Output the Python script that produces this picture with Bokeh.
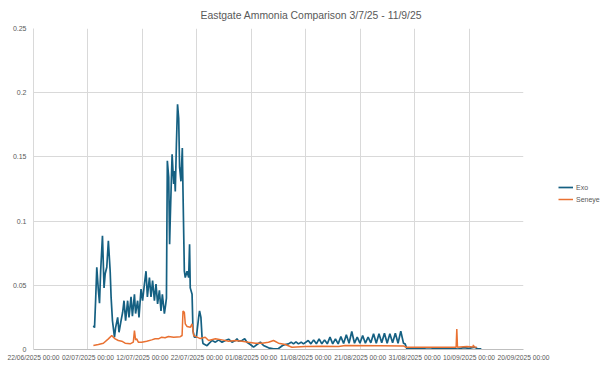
import pandas as pd
from bokeh.plotting import figure
from bokeh.layouts import row
from bokeh.models import (Range1d, FixedTicker, NumeralTickFormatter, DatetimeTickFormatter,
                          Legend, LegendItem, ColumnDataSource)
from bokeh.embed import file_html
from bokeh.resources import INLINE

TITLE = "Eastgate Ammonia Comparison 3/7/25 - 11/9/25"
SERIES = ["Exo", "Seneye"]

x_ticks = ["2025-06-22", "2025-07-02", "2025-07-12", "2025-07-22", "2025-08-01",
           "2025-08-11", "2025-08-21", "2025-08-31", "2025-09-10", "2025-09-20"]
y_ticks = [0, 0.05, 0.1, 0.15, 0.2, 0.25]

exo_time = [
    "2025-07-03 00:00", "2025-07-03 05:00", "2025-07-03 10:00", "2025-07-03 15:00", "2025-07-03 22:00",
    "2025-07-04 03:00", "2025-07-04 08:00", "2025-07-04 16:00", "2025-07-04 23:00", "2025-07-05 04:00",
    "2025-07-05 11:00", "2025-07-05 18:00", "2025-07-06 02:00", "2025-07-06 06:00", "2025-07-06 12:00",
    "2025-07-06 21:00", "2025-07-07 02:00", "2025-07-07 11:00", "2025-07-07 17:00", "2025-07-08 02:00",
    "2025-07-08 09:00", "2025-07-08 15:00", "2025-07-08 22:00", "2025-07-09 07:00", "2025-07-09 13:00",
    "2025-07-09 22:00", "2025-07-10 04:00", "2025-07-10 13:00", "2025-07-10 18:00", "2025-07-11 03:00",
    "2025-07-11 09:00", "2025-07-11 18:00", "2025-07-12 01:00", "2025-07-12 09:00", "2025-07-12 16:00",
    "2025-07-12 22:00", "2025-07-13 07:00", "2025-07-13 14:00", "2025-07-13 21:00", "2025-07-14 05:00",
    "2025-07-14 12:00", "2025-07-14 19:00", "2025-07-15 03:00", "2025-07-15 10:00", "2025-07-15 16:00",
    "2025-07-16 01:00", "2025-07-16 07:00", "2025-07-16 10:00", "2025-07-16 14:00", "2025-07-16 20:00",
    "2025-07-17 00:00", "2025-07-17 03:00", "2025-07-17 11:00", "2025-07-17 18:00", "2025-07-17 21:00",
    "2025-07-18 01:00", "2025-07-18 06:00", "2025-07-18 11:00", "2025-07-18 16:00", "2025-07-18 20:00",
    "2025-07-19 02:00", "2025-07-19 08:00", "2025-07-19 11:00", "2025-07-19 17:00", "2025-07-19 21:00",
    "2025-07-20 05:00", "2025-07-20 12:00", "2025-07-20 16:00", "2025-07-20 19:00", "2025-07-21 03:00",
    "2025-07-21 07:00", "2025-07-21 13:00", "2025-07-21 22:00", "2025-07-22 08:00", "2025-07-22 12:00",
    "2025-07-22 18:00", "2025-07-22 23:00", "2025-07-23 03:00", "2025-07-23 21:00",
    "2025-07-24 04:00", "2025-07-24 19:00", "2025-07-25 10:00", "2025-07-26 00:00", "2025-07-26 15:00",
    "2025-07-27 06:00", "2025-07-27 20:00", "2025-07-28 11:00", "2025-07-29 02:00", "2025-07-29 09:00",
    "2025-07-29 16:00", "2025-07-30 07:00", "2025-07-30 19:00", "2025-07-31 05:00", "2025-07-31 20:00",
    "2025-08-01 10:00", "2025-08-02 01:00", "2025-08-02 16:00", "2025-08-03 06:00", "2025-08-04 04:00",
    "2025-08-05 02:00", "2025-08-06 00:00", "2025-08-06 18:00", "2025-08-07 06:00", "2025-08-07 20:00",
    "2025-08-08 08:00", "2025-08-08 18:00", "2025-08-09 05:00", "2025-08-09 16:00", "2025-08-10 04:00",
    "2025-08-10 14:00",
    "2025-08-11 11:00", "2025-08-11 23:00", "2025-08-12 11:00", "2025-08-12 23:00",
    "2025-08-13 11:00", "2025-08-13 23:00", "2025-08-14 11:00", "2025-08-14 23:00",
    "2025-08-15 11:00", "2025-08-15 23:00", "2025-08-16 11:00", "2025-08-16 23:00",
    "2025-08-17 11:00", "2025-08-17 23:00", "2025-08-18 11:00", "2025-08-18 23:00",
    "2025-08-19 11:00", "2025-08-19 23:00", "2025-08-20 11:00", "2025-08-20 23:00",
    "2025-08-21 11:00", "2025-08-21 23:00", "2025-08-22 11:00", "2025-08-22 23:00",
    "2025-08-23 11:00", "2025-08-23 23:00", "2025-08-24 11:00", "2025-08-24 23:00",
    "2025-08-25 11:00", "2025-08-25 23:00", "2025-08-26 11:00", "2025-08-26 23:00",
    "2025-08-27 11:00", "2025-08-27 23:00", "2025-08-28 11:00", "2025-08-28 23:00",
    "2025-08-29 06:00", "2025-08-29 14:00",
    "2025-08-30 00:00", "2025-08-31 00:00", "2025-09-01 00:00", "2025-09-02 00:00", "2025-09-03 00:00",
    "2025-09-04 00:00", "2025-09-05 00:00", "2025-09-06 00:00", "2025-09-07 00:00", "2025-09-08 00:00",
    "2025-09-09 00:00", "2025-09-10 00:00", "2025-09-11 00:00", "2025-09-11 12:00", "2025-09-12 06:00",
]
exo_value = [
    0.0186, 0.017, 0.039, 0.064, 0.046,
    0.036, 0.061, 0.0885, 0.048, 0.059,
    0.064, 0.0846, 0.061, 0.041, 0.0225,
    0.0096, 0.017, 0.025, 0.0134, 0.0225,
    0.029, 0.038, 0.0225, 0.038, 0.025,
    0.041, 0.026, 0.043, 0.028, 0.038,
    0.025, 0.047, 0.038, 0.051, 0.061,
    0.041, 0.056, 0.041, 0.0536, 0.038,
    0.051, 0.0355, 0.046, 0.030, 0.043,
    0.028, 0.0355, 0.040, 0.147, 0.134,
    0.082, 0.103, 0.152, 0.129, 0.139,
    0.123, 0.16, 0.191, 0.18, 0.142,
    0.131, 0.157, 0.123, 0.061, 0.056,
    0.061, 0.056, 0.082, 0.048, 0.043,
    0.0147, 0.0096, 0.0096, 0.025, 0.030,
    0.025, 0.0096, 0.0047, 0.0030,
    0.0044, 0.0070, 0.0057, 0.0075, 0.0057,
    0.0070, 0.0080, 0.0057, 0.0070, 0.0083,
    0.0065, 0.0070, 0.0083, 0.0057, 0.0039,
    0.0018, 0.0039, 0.0057, 0.0031, 0.0013,
    0.0005, 0.0008, 0.0031, 0.0039, 0.0044,
    0.0057, 0.0044, 0.0060, 0.0044, 0.0057,
    0.0044,
    0.0070, 0.0044, 0.0075, 0.0044,
    0.0083, 0.0044, 0.0075, 0.0044,
    0.0096, 0.0044, 0.0083, 0.0044,
    0.0100, 0.0047, 0.0115, 0.0049,
    0.0140, 0.0049, 0.0096, 0.0049,
    0.0109, 0.0049, 0.0096, 0.0052,
    0.0122, 0.0049, 0.0122, 0.0052,
    0.0127, 0.0049, 0.0122, 0.0052,
    0.0127, 0.0049, 0.0143, 0.0049,
    0.0044, 0.0005,
    0.0008, 0.0005, 0.0012, 0.0006, 0.0004,
    0.0010, 0.0005, 0.0012, 0.0007, 0.0004,
    0.0015, 0.0009, 0.0018, 0.0008, 0.0005,
]

seneye_time = [
    "2025-07-03 00:00", "2025-07-03 22:00", "2025-07-04 20:00", "2025-07-05 18:00", "2025-07-06 09:00",
    "2025-07-06 16:00", "2025-07-07 00:00", "2025-07-07 14:00", "2025-07-08 05:00", "2025-07-08 20:00",
    "2025-07-09 18:00", "2025-07-10 08:00", "2025-07-10 13:00", "2025-07-10 18:00", "2025-07-10 23:00",
    "2025-07-11 06:00", "2025-07-11 21:00", "2025-07-12 19:00", "2025-07-13 17:00", "2025-07-14 08:00",
    "2025-07-14 23:00", "2025-07-15 13:00", "2025-07-16 04:00", "2025-07-16 19:00", "2025-07-17 18:00",
    "2025-07-18 23:00", "2025-07-19 07:00", "2025-07-19 11:00", "2025-07-19 17:00", "2025-07-19 21:00",
    "2025-07-20 05:00", "2025-07-20 19:00", "2025-07-21 03:00", "2025-07-21 10:00", "2025-07-22 01:00",
    "2025-07-22 15:00", "2025-07-23 13:00", "2025-07-24 04:00", "2025-07-25 10:00", "2025-07-26 15:00",
    "2025-07-27 20:00", "2025-07-29 02:00", "2025-07-30 07:00", "2025-07-31 12:00", "2025-08-01 18:00",
    "2025-08-02 23:00", "2025-08-04 04:00", "2025-08-05 02:00", "2025-08-06 00:00", "2025-08-07 06:00",
    "2025-08-08 11:00", "2025-08-10 22:00", "2025-08-13 23:00", "2025-08-17 01:00", "2025-08-18 06:00",
    "2025-08-24 16:00", "2025-08-28 22:00", "2025-08-29 11:00", "2025-09-02 20:00", "2025-09-07 15:00",
    "2025-09-07 18:00", "2025-09-07 21:00", "2025-09-08 08:00", "2025-09-09 14:00", "2025-09-10 18:00",
    "2025-09-10 19:00", "2025-09-10 22:00", "2025-09-11 10:00",
]
seneye_value = [
    0.0031, 0.0039, 0.0049, 0.0083, 0.0109,
    0.0096, 0.0083, 0.0070, 0.0065, 0.0049,
    0.0044, 0.0057, 0.0148, 0.0075, 0.0083,
    0.0057, 0.0057, 0.0065, 0.0075, 0.0083,
    0.0083, 0.0096, 0.0091, 0.0101, 0.0096,
    0.0100, 0.0109, 0.030, 0.029, 0.020,
    0.0179, 0.0173, 0.020, 0.0109, 0.0096,
    0.0085, 0.0096, 0.0070, 0.0083, 0.0075,
    0.0065, 0.0070, 0.0065, 0.0057, 0.0049,
    0.0049, 0.0057, 0.0070, 0.0049, 0.0039,
    0.0018, 0.0023, 0.0026, 0.0023, 0.0031,
    0.0030, 0.0028, 0.0018, 0.0018, 0.0018,
    0.016, 0.0018, 0.0020, 0.0023, 0.0020,
    0.0036, 0.0020, 0.0018,
]

EXO_COLOR = "#156082"
SEN_COLOR = "#E97132"
GRID = "#D9D9D9"
TEXT = "#595959"
FONT = "'Liberation Sans Narrow', 'Arial Narrow', 'Liberation Sans', sans-serif"

H = 367
W1 = 550
p = figure(width=W1, height=H, output_backend="svg", toolbar_location=None,
           x_axis_type="datetime",
           x_range=Range1d(pd.Timestamp(x_ticks[0]), pd.Timestamp(x_ticks[-1])),
           y_range=Range1d(y_ticks[0], y_ticks[-1]),
           title=TITLE,
           min_border_left=33, min_border_right=W1 - 523, min_border_top=27,
           min_border_bottom=H - 349)
p.title.align = "left"
p.title.offset = 167
p.title.standoff = 15
p.title.text_font = FONT
p.title.text_font_size = "10.4px"
p.title.text_font_style = "normal"
p.title.text_color = TEXT
p.outline_line_color = None
p.background_fill_color = "white"
p.border_fill_color = "white"

src_exo = ColumnDataSource(dict(t=pd.to_datetime(exo_time), v=exo_value))
src_sen = ColumnDataSource(dict(t=pd.to_datetime(seneye_time), v=seneye_value))
p.line("t", "v", source=src_exo, line_color=EXO_COLOR, line_width=1.7)
p.line("t", "v", source=src_sen, line_color=SEN_COLOR, line_width=1.5)

tick_ms = [pd.Timestamp(t).value // 10**6 for t in x_ticks]
p.xaxis.ticker = FixedTicker(ticks=tick_ms)
fmt = "%d/%m/%Y %H:%M"
p.xaxis.formatter = DatetimeTickFormatter(
    microseconds=fmt, milliseconds=fmt, seconds=fmt, minsec=fmt, minutes=fmt,
    hourmin=fmt, hours=fmt, days=fmt, months=fmt, years=fmt)
p.yaxis.ticker = FixedTicker(ticks=y_ticks)
p.yaxis.formatter = NumeralTickFormatter(format="0.[00]")

for ax in (p.xaxis[0], p.yaxis[0]):
    ax.major_tick_line_color = None
    ax.minor_tick_line_color = None
    ax.major_tick_out = 0
    ax.major_label_text_color = TEXT
    ax.major_label_text_font = FONT
p.xaxis[0].major_label_text_font_size = "6.7px"
p.yaxis[0].major_label_text_font_size = "7px"
p.xaxis.axis_line_color = "#BFBFBF"
p.yaxis.axis_line_color = GRID
p.xaxis.major_label_standoff = 4
p.yaxis.major_label_standoff = 7
p.xgrid.grid_line_color = GRID
p.ygrid.grid_line_color = GRID

# legend panel to the right of the plot (series drawn hidden, only their keys show)
W2 = 602 - W1
lg = figure(width=W2, height=H, output_backend="svg", toolbar_location=None,
            x_axis_location=None, y_axis_location=None,
            min_border_left=0, min_border_right=0, min_border_top=0, min_border_bottom=0)
lg.outline_line_color = None
lg.xgrid.visible = False
lg.ygrid.visible = False
lg.border_fill_color = "white"
k_exo = lg.line("t", "v", source=src_exo, line_color=EXO_COLOR, line_width=1.7, visible=False)
k_sen = lg.line("t", "v", source=src_sen, line_color=SEN_COLOR, line_width=1.5, visible=False)
legend = Legend(items=[LegendItem(label=SERIES[0], renderers=[k_exo]),
                       LegendItem(label=SERIES[1], renderers=[k_sen])],
                location=(8, 144), padding=0, margin=0, spacing=0,
                glyph_width=15, glyph_height=12, label_height=12,
                label_standoff=3, border_line_alpha=0, background_fill_alpha=0,
                label_text_font=FONT, label_text_font_size="7px", label_text_color=TEXT)
lg.add_layout(legend, "center")

layout = row(p, lg, spacing=0)
open("out.html", "w").write(file_html(layout, INLINE))
